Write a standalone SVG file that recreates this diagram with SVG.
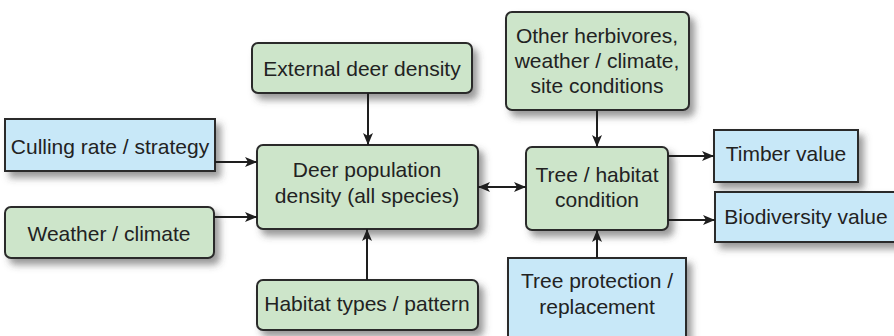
<svg xmlns="http://www.w3.org/2000/svg" width="894" height="336" viewBox="0 0 894 336">
<defs>
<filter id="sh" x="-20%" y="-30%" width="150%" height="170%">
<feDropShadow dx="5" dy="6" stdDeviation="3.5" flood-color="#4a4a4a" flood-opacity="0.55"/>
</filter>
<marker id="ah" viewBox="0 0 12 10" refX="12" refY="5" markerWidth="12" markerHeight="10" markerUnits="userSpaceOnUse" orient="auto-start-reverse">
<path d="M0,0 L12,5 L0,10 L3,5 z" fill="#1e1e1e"/>
</marker>
<style>
.g{fill:#cde5ca;stroke:#2a2a2a;stroke-width:2;filter:url(#sh)}
.b{fill:#c8e8f8;stroke:#2a2a2a;stroke-width:2;filter:url(#sh)}
text{font-family:"Liberation Sans",Arial,sans-serif;font-size:21px;fill:#222;text-anchor:middle}
.c line{stroke:#1e1e1e;stroke-width:2;marker-end:url(#ah)}
</style>
</defs>
<rect width="894" height="336" fill="#ffffff"/>
<g id="culling"><rect class="b" x="5" y="119" width="210" height="52"/><text x="110" y="154">Culling rate / strategy</text></g>
<g id="weather"><rect class="g" x="5" y="207" width="209" height="51" rx="6"/><text x="109" y="241">Weather / climate</text></g>
<g id="external"><rect class="g" x="252" y="43" width="220" height="50" rx="6"/><text x="362" y="76">External deer density</text></g>
<g id="deer"><rect class="g" x="257" y="145" width="221" height="84" rx="6"/><text x="367" y="177">Deer population</text><text x="367" y="203">density (all species)</text></g>
<g id="habitat"><rect class="g" x="257" y="280" width="221" height="50" rx="6"/><text x="367" y="311">Habitat types / pattern</text></g>
<g id="other"><rect class="g" x="506" y="12" width="183" height="98" rx="6"/><text x="597" y="43">Other herbivores,</text><text x="597" y="68">weather / climate,</text><text x="597" y="93">site conditions</text></g>
<g id="tree"><rect class="g" x="526" y="147" width="142" height="83" rx="6"/><text x="597" y="182">Tree / habitat</text><text x="597" y="207">condition</text></g>
<g id="protection"><rect class="b" x="508" y="258" width="178" height="90"/><text x="597" y="288">Tree protection /</text><text x="597" y="314">replacement</text></g>
<g id="timber"><rect class="b" x="714" y="130" width="144" height="52"/><text x="786" y="161">Timber value</text></g>
<g id="biodiversity"><rect class="b" x="715" y="192" width="184" height="50"/><text x="806" y="224">Biodiversity value</text></g>
<g id="connectors" class="c">
<line x1="215" y1="162" x2="257" y2="162"/>
<line x1="214" y1="217" x2="257" y2="217"/>
<line x1="368" y1="93" x2="368" y2="145"/>
<line x1="367" y1="280" x2="367" y2="229"/>
<line x1="478" y1="187" x2="526" y2="187" style="marker-start:url(#ah)"/>
<line x1="597" y1="110" x2="597" y2="147"/>
<line x1="597" y1="258" x2="597" y2="230"/>
<line x1="668" y1="156" x2="714" y2="156"/>
<line x1="668" y1="220" x2="715" y2="220"/>
</g>
</svg>
